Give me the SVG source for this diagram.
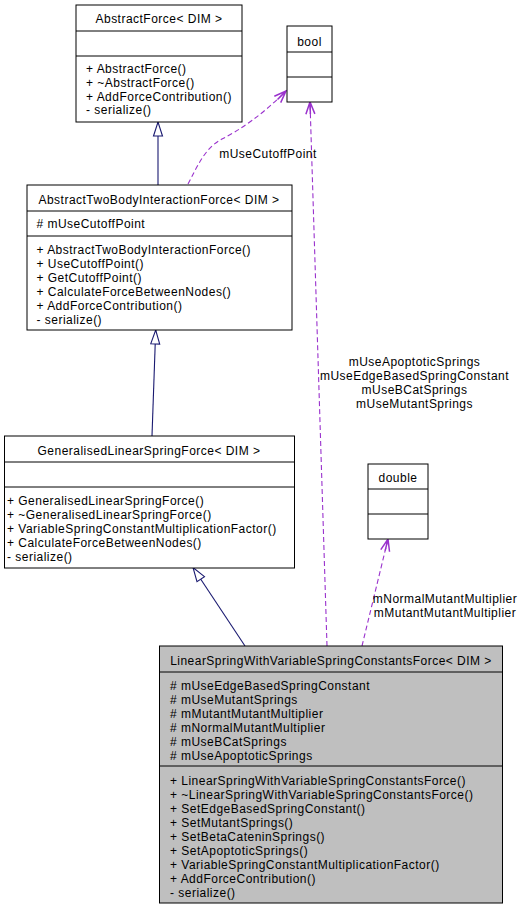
<svg xmlns="http://www.w3.org/2000/svg" width="523" height="909" viewBox="0 0 523 909">
<style>
text{font-family:"Liberation Sans",Arial,Helvetica,sans-serif;font-size:12px;letter-spacing:0.48px;fill:#000}
.c{text-anchor:middle}
.box{fill:#fff;stroke:#000;stroke-width:1}
.gray{fill:#bfbfbf;stroke:#000;stroke-width:1}
.sep{stroke:#000;stroke-width:1}
.inh{fill:none;stroke:#191970;stroke-width:1.1;marker-end:url(#tri)}
.use{fill:none;stroke:#9a32cd;stroke-width:1.1;stroke-dasharray:5,3;marker-end:url(#vee)}
</style>
<defs>
<marker id="tri" markerUnits="userSpaceOnUse" markerWidth="16" markerHeight="12" refX="14" refY="5" orient="auto" overflow="visible">
<path d="M0,0.5 L14,5 L0,9.5 Z" fill="#fff" stroke="#191970" stroke-width="1.1"/>
</marker>
<marker id="vee" markerUnits="userSpaceOnUse" markerWidth="14" markerHeight="12" refX="12" refY="5" orient="auto" overflow="visible">
<path d="M0,0.5 L12,5 L0,9.5 M0,5 L12,5" fill="none" stroke="#9a32cd" stroke-width="1.5"/>
</marker>
</defs>
<rect width="523" height="909" fill="#fff"/>
<g id="connectors">
<path class="inh" d="M158,185 L158,122"/>
<path class="inh" d="M152,436 L155.7,330"/>
<path class="inh" d="M245,646 L193,567.5"/>
<path class="use" d="M188,184 C198,165 205,148 222,139 C240,130 262,115 286,91"/>
<path class="use" d="M327,646 L310,102"/>
<path class="use" d="M362,646 L388,539"/>
<text class="c" x="268" y="157.5">mUseCutoffPoint</text>
<text class="c" x="414.5" y="366">mUseApoptoticSprings</text>
<text class="c" x="414.5" y="380">mUseEdgeBasedSpringConstant</text>
<text class="c" x="414.5" y="394">mUseBCatSprings</text>
<text class="c" x="414.5" y="408">mUseMutantSprings</text>
<text class="c" x="445" y="603">mNormalMutantMultiplier</text>
<text class="c" x="445" y="617">mMutantMutantMultiplier</text>
</g>
<g id="AbstractForce">
<rect class="box" x="76" y="5" width="166" height="117"/>
<line class="sep" x1="76" y1="31" x2="242" y2="31"/>
<line class="sep" x1="76" y1="56" x2="242" y2="56"/>
<text class="c" x="159" y="23">AbstractForce&lt; DIM &gt;</text>
<text x="86" y="72.5">+ AbstractForce()</text>
<text x="86" y="86.5">+ ~AbstractForce()</text>
<text x="86" y="100.5">+ AddForceContribution()</text>
<text x="86" y="114">- serialize()</text>
</g>
<g id="bool">
<rect class="box" x="287" y="26" width="45" height="76"/>
<line class="sep" x1="287" y1="52" x2="332" y2="52"/>
<line class="sep" x1="287" y1="77" x2="332" y2="77"/>
<text class="c" x="309.5" y="45.5">bool</text>
</g>
<g id="AbstractTwoBodyInteractionForce">
<rect class="box" x="27" y="185" width="265" height="145"/>
<line class="sep" x1="27" y1="211" x2="292" y2="211"/>
<line class="sep" x1="27" y1="236" x2="292" y2="236"/>
<text class="c" x="159" y="203.5">AbstractTwoBodyInteractionForce&lt; DIM &gt;</text>
<text x="36.5" y="228">#  mUseCutoffPoint</text>
<text x="36.5" y="254">+ AbstractTwoBodyInteractionForce()</text>
<text x="36.5" y="268">+ UseCutoffPoint()</text>
<text x="36.5" y="282">+ GetCutoffPoint()</text>
<text x="36.5" y="296">+ CalculateForceBetweenNodes()</text>
<text x="36.5" y="310">+ AddForceContribution()</text>
<text x="36.5" y="324">- serialize()</text>
</g>
<g id="GeneralisedLinearSpringForce">
<rect class="box" x="4.5" y="436" width="290" height="132"/>
<line class="sep" x1="4.5" y1="462" x2="294.5" y2="462"/>
<line class="sep" x1="4.5" y1="487" x2="294.5" y2="487"/>
<text class="c" x="149" y="454.5">GeneralisedLinearSpringForce&lt; DIM &gt;</text>
<text x="7" y="505">+ GeneralisedLinearSpringForce()</text>
<text x="7" y="519">+ ~GeneralisedLinearSpringForce()</text>
<text x="7" y="533">+ VariableSpringConstantMultiplicationFactor()</text>
<text x="7" y="547">+ CalculateForceBetweenNodes()</text>
<text x="7" y="561">- serialize()</text>
</g>
<g id="double">
<rect class="box" x="368" y="464" width="60" height="75"/>
<line class="sep" x1="368" y1="489" x2="428" y2="489"/>
<line class="sep" x1="368" y1="514" x2="428" y2="514"/>
<text class="c" x="398" y="481.5">double</text>
</g>
<g id="LinearSpringWithVariableSpringConstantsForce">
<rect class="gray" x="159.5" y="646" width="343" height="257"/>
<line class="sep" x1="159.5" y1="672" x2="502.5" y2="672"/>
<line class="sep" x1="159.5" y1="766" x2="502.5" y2="766"/>
<text class="c" x="331" y="665">LinearSpringWithVariableSpringConstantsForce&lt; DIM &gt;</text>
<text x="170" y="690">#  mUseEdgeBasedSpringConstant</text>
<text x="170" y="704">#  mUseMutantSprings</text>
<text x="170" y="718">#  mMutantMutantMultiplier</text>
<text x="170" y="732">#  mNormalMutantMultiplier</text>
<text x="170" y="746">#  mUseBCatSprings</text>
<text x="170" y="760">#  mUseApoptoticSprings</text>
<text x="170" y="785">+ LinearSpringWithVariableSpringConstantsForce()</text>
<text x="170" y="799">+ ~LinearSpringWithVariableSpringConstantsForce()</text>
<text x="170" y="813">+ SetEdgeBasedSpringConstant()</text>
<text x="170" y="827">+ SetMutantSprings()</text>
<text x="170" y="841">+ SetBetaCateninSprings()</text>
<text x="170" y="855">+ SetApoptoticSprings()</text>
<text x="170" y="869">+ VariableSpringConstantMultiplicationFactor()</text>
<text x="170" y="883">+ AddForceContribution()</text>
<text x="170" y="897">- serialize()</text>
</g>
</svg>
